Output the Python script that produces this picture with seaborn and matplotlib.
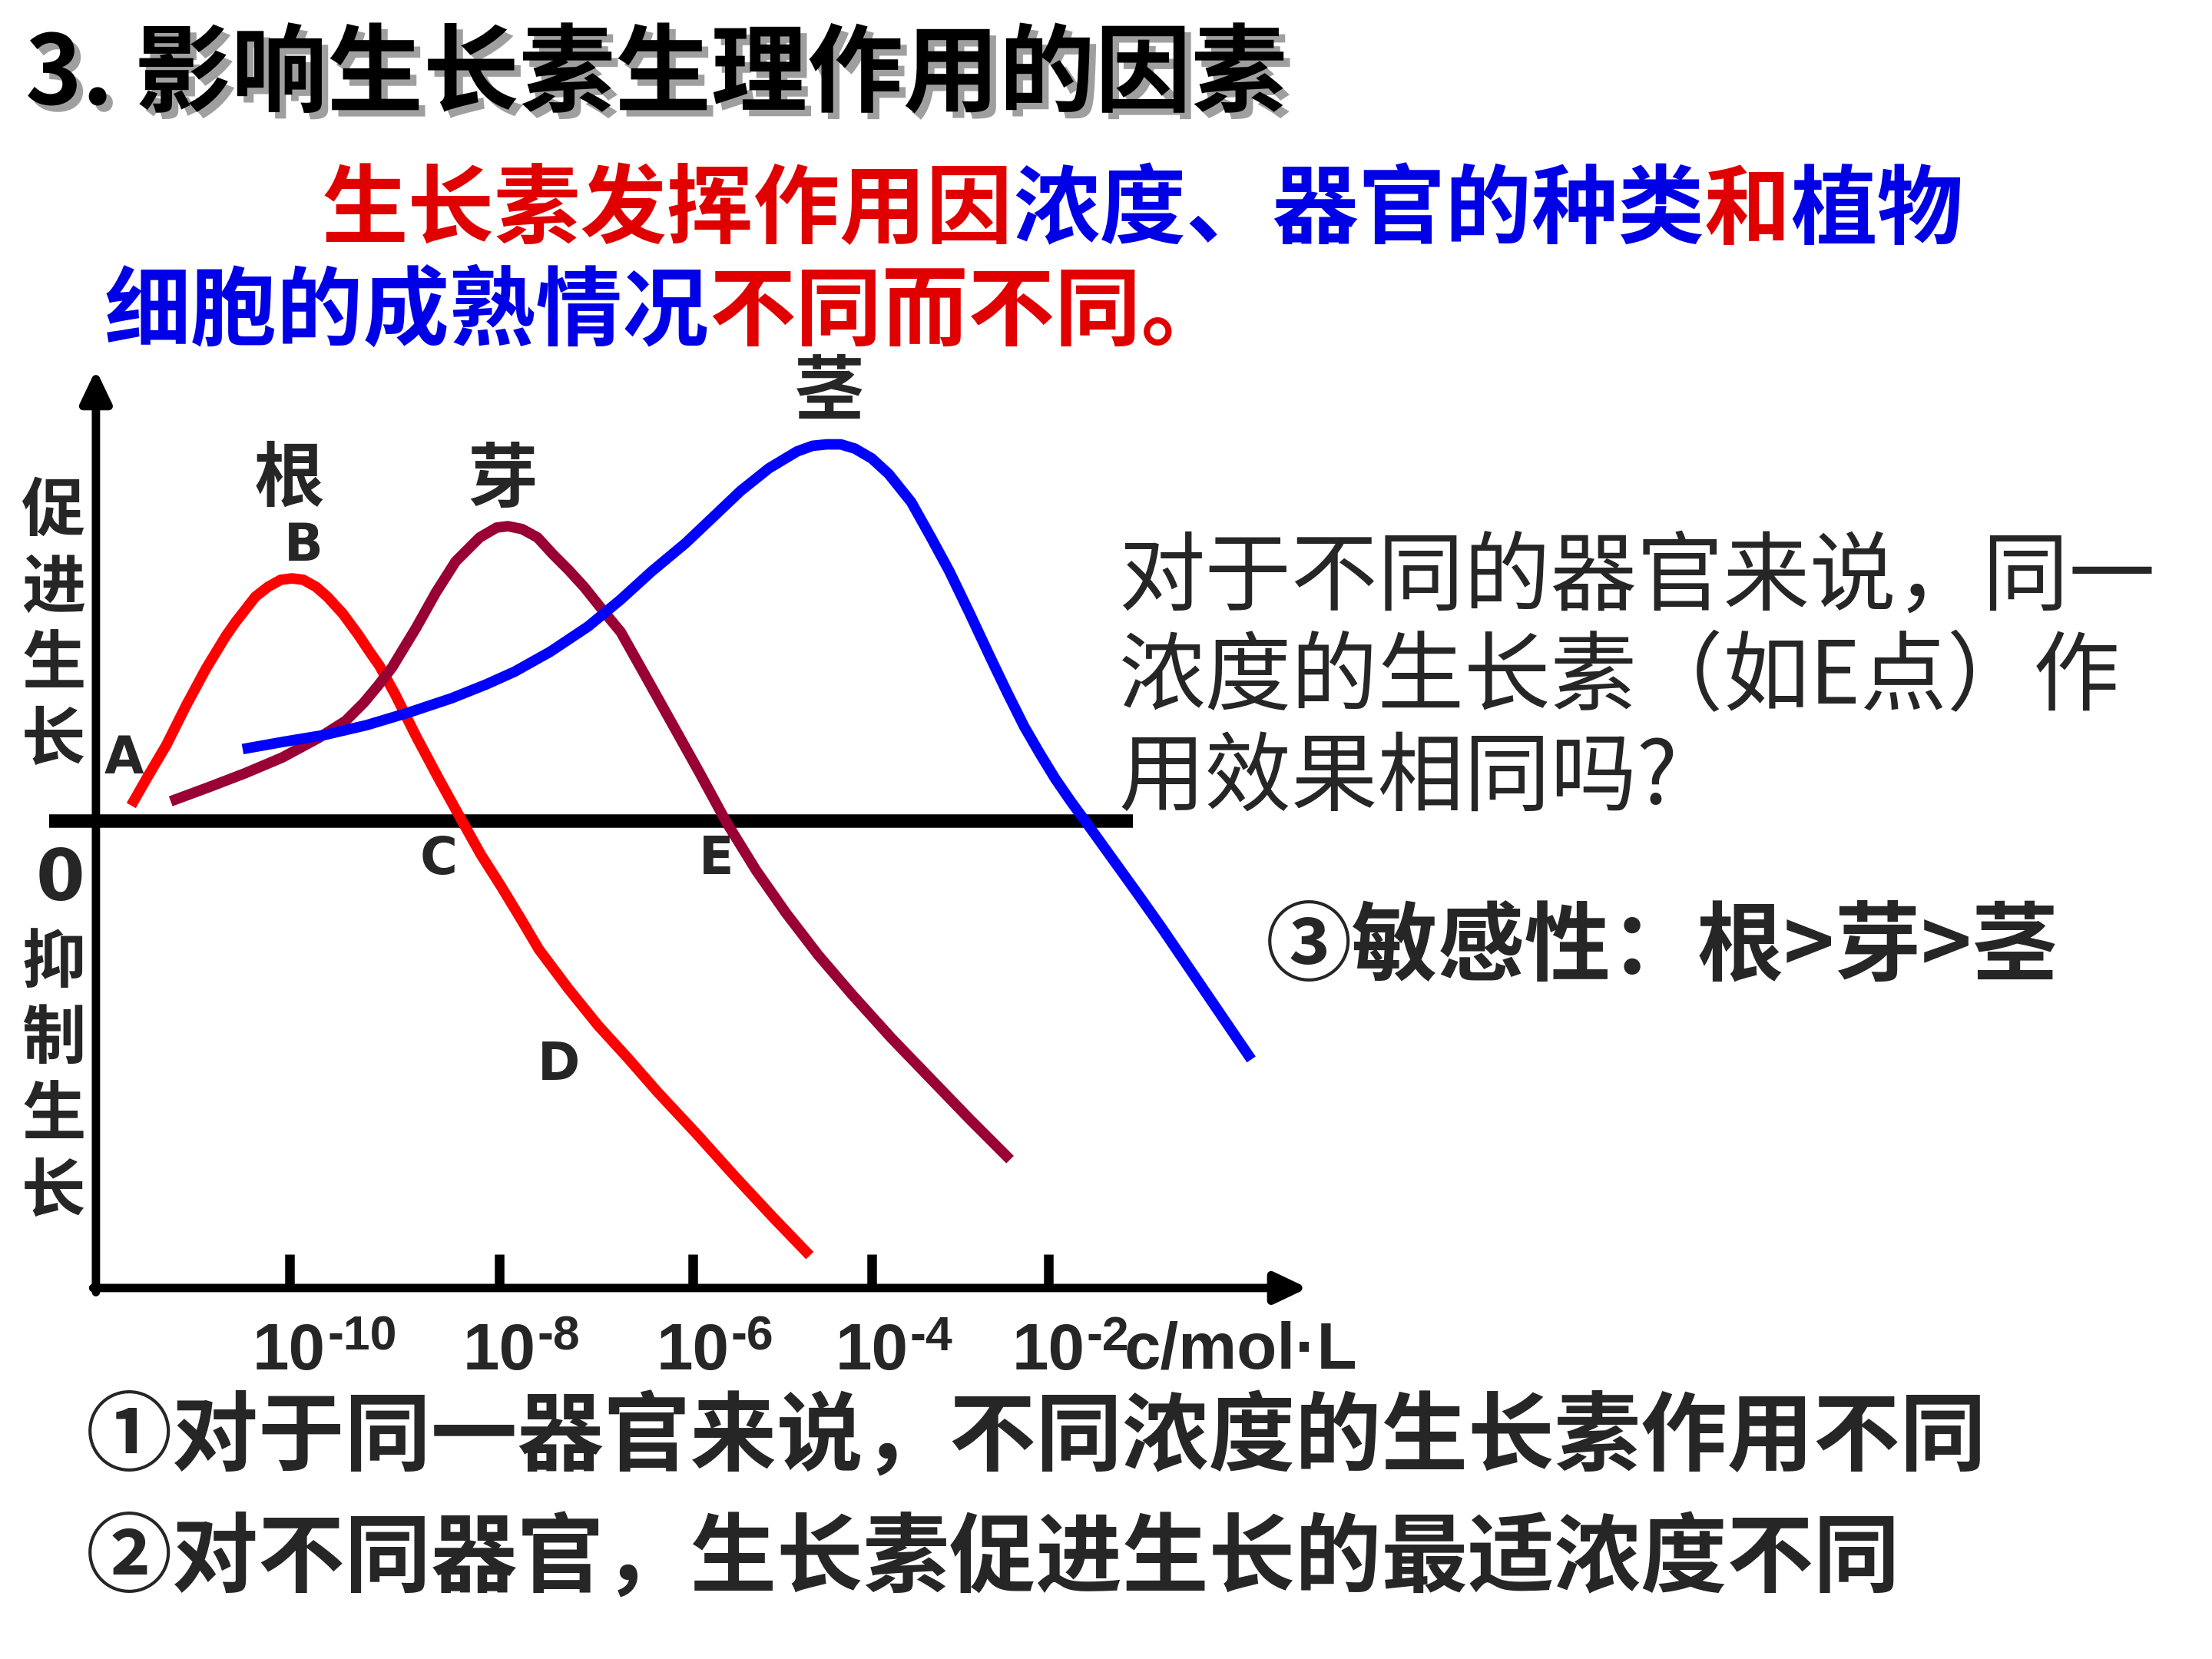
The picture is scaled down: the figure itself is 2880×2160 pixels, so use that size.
import numpy as np
import pandas as pd
import matplotlib
matplotlib.use('Agg')
import matplotlib.pyplot as plt
import matplotlib.patheffects as pe
import seaborn as sns

# slide is laid out on a 1568 x 1176 grid (y grows downwards)
# curve points: x along the concentration axis, y on the slide
root_x = [93, 105, 118, 132, 146, 160, 167, 174, 181, 190, 199, 207, 215, 224, 232, 243,
          254, 262, 269, 280, 295, 311, 327, 341, 355, 369, 382, 403, 424, 445, 466, 494,
          521, 548, 574]
root_y = [571, 550, 528, 500, 474, 451, 441, 432, 423, 416, 411, 410, 411, 416, 423, 435,
          450, 462, 472, 492, 522, 552, 581, 606, 628, 651, 673, 701, 727, 750, 774, 804,
          834, 863, 890]

bud_x = [121, 148, 174, 200, 226, 245, 258, 268, 278, 295, 309, 323, 340, 352, 360, 370,
         381, 392, 403, 414, 426, 440, 458, 477, 496, 515, 536, 557, 580, 604, 632, 660, 688, 716]
bud_y = [568, 558, 548, 537, 523, 511, 498, 486, 473, 445, 420, 398, 381, 374, 373, 375,
         381, 393, 404, 416, 431, 448, 480, 514, 548, 583, 617, 647, 677, 705, 736, 765, 794, 822]

stem_x = [172, 200, 230, 260, 290, 320, 345, 365, 390, 417, 440, 462, 486, 505, 525, 545,
          565, 576, 586, 596, 606, 618, 630, 646, 660, 673, 687, 702, 714, 726, 737, 748,
          759, 770, 788, 806, 823, 855, 887]
stem_y = [531, 526, 521, 514, 505, 495, 485, 476, 462, 444, 425, 405, 385, 367, 348, 332,
          320, 316, 315, 315, 318, 325, 336, 356, 381, 405, 434, 466, 491, 515, 534, 552,
          568, 583, 608, 633, 657, 704, 751]

organs = ['根', '芽', '茎']
organ_colors = ['#FF0000', '#990033', '#0000FF']

tick_pos = [205, 354, 491, 618, 743]
tick_exp = ['-10', '-8', '-6', '-4', '-2']

title = '3. 影响生长素生理作用的因素'
line1 = [('生长素发挥作用因', '#E00000'), ('浓度、器官的种类', '#0000E6'), ('和', '#E00000'), ('植物', '#0000E6')]
line2 = [('细胞的成熟情况', '#0000E6'), ('不同而不同。', '#E00000')]
question = ['对于不同的器官来说，同一', '浓度的生长素（如E点）作', '用效果相同吗?']
sensitivity = '③敏感性：根>芽>茎'
notes = ['①对于同一器官来说，不同浓度的生长素作用不同', '②对不同器官，生长素促进生长的最适浓度不同']
promote = '促进生长'
inhibit = '抑制生长'
point_labels = ['A', 'B', 'C', 'D', 'E']
point_pos = [(88, 538), (215, 387), (311, 609), (396, 755), (508, 609)]

sns.set_style('white')
plt.rcParams['font.family'] = ['Noto Sans CJK SC', 'DejaVu Sans']

fig = plt.figure(figsize=(9.6, 7.2), dpi=300)
ax = fig.add_axes([0, 0, 1, 1])

PX = 2880 / 1568 * 72 / 300   # points per grid unit

df = pd.concat([
    pd.DataFrame({'organ': '根', 'x': root_x, 'y': root_y}),
    pd.DataFrame({'organ': '芽', 'x': bud_x, 'y': bud_y}),
    pd.DataFrame({'organ': '茎', 'x': stem_x, 'y': stem_y}),
], ignore_index=True)
sns.lineplot(data=df, x='x', y='y', hue='organ', palette=dict(zip(organs, organ_colors)),
             sort=False, estimator=None, linewidth=3.3, legend=False, ax=ax, zorder=3)
for l in ax.lines:
    l.set_solid_joinstyle('round')
    l.set_solid_capstyle('butt')

ax.set_xlim(0, 1568)
ax.set_ylim(1176, 0)
ax.axis('off')

# axes of the diagram
ax.plot([35, 803], [582, 582], color='black', lw=4.2, solid_capstyle='butt', zorder=2)
arrow = dict(arrowstyle='-|>,head_length=0.42,head_width=0.2', lw=2.6, color='black',
             shrinkA=0, shrinkB=0, mutation_scale=20)
ax.annotate('', xy=(68, 262), xytext=(68, 916), arrowprops=arrow, zorder=2)
ax.annotate('', xy=(927, 913), xytext=(66, 913), arrowprops=arrow, zorder=2)
ax.vlines(tick_pos, 889, 913, color='black', lw=3, zorder=2)

for x, e in zip(tick_pos, tick_exp):
    ax.text(x, 971, '10', ha='center', va='baseline', fontsize=20.5, weight='bold',
            family='Liberation Sans')
    ax.text(x + 27, 957, e, ha='left', va='baseline', fontsize=15, weight='bold',
            family='Liberation Sans')
ax.text(797, 970, 'c/mol·L', ha='left', va='baseline', fontsize=20.5, weight='bold',
        family='Liberation Sans')

ax.text(43, 624, '0', ha='center', va='center', fontsize=22, weight='bold', family='DejaVu Sans')
for lab, (x, y) in zip(point_labels, point_pos):
    ax.text(x, y, lab, ha='center', va='center', fontsize=16, weight='bold', family='DejaVu Sans')

for name, (x, y) in zip(organs, [(205, 340), (356, 341), (588, 279)]):
    ax.text(x, y, name, ha='center', va='center', fontsize=22, weight='bold')

for i, ch in enumerate(promote):
    ax.text(38, 363 + i * 54, ch, ha='center', va='center', fontsize=20, weight='bold')
for i, ch in enumerate(inhibit):
    ax.text(38, 683 + i * 54, ch, ha='center', va='center', fontsize=20, weight='bold')

# title with shadow
ax.text(18, 54, title, ha='left', va='center', fontsize=30, weight='black', color='black',
        path_effects=[pe.withSimplePatchShadow(offset=(2, -2), shadow_rgbFace='#777777', alpha=0.7)])

# coloured sentence
fs = 27
em = fs / PX
x = 228
for seg, c in line1:
    ax.text(x, 150, seg, ha='left', va='center', fontsize=fs, weight='bold', color=c)
    x += len(seg) * em
x = 74
for seg, c in line2:
    ax.text(x, 222, seg, ha='left', va='center', fontsize=fs, weight='bold', color=c)
    x += len(seg) * em

for i, s in enumerate(question):
    ax.text(793, 410 + i * 71, s, ha='left', va='center', fontsize=fs, weight='medium')
ax.text(897, 672, sensitivity, ha='left', va='center', fontsize=fs, weight='bold')
for i, s in enumerate(notes):
    ax.text(61, 1020 + i * 86, s, ha='left', va='center', fontsize=fs, weight='bold')

fig.savefig('out.png', dpi=300, facecolor='white')
